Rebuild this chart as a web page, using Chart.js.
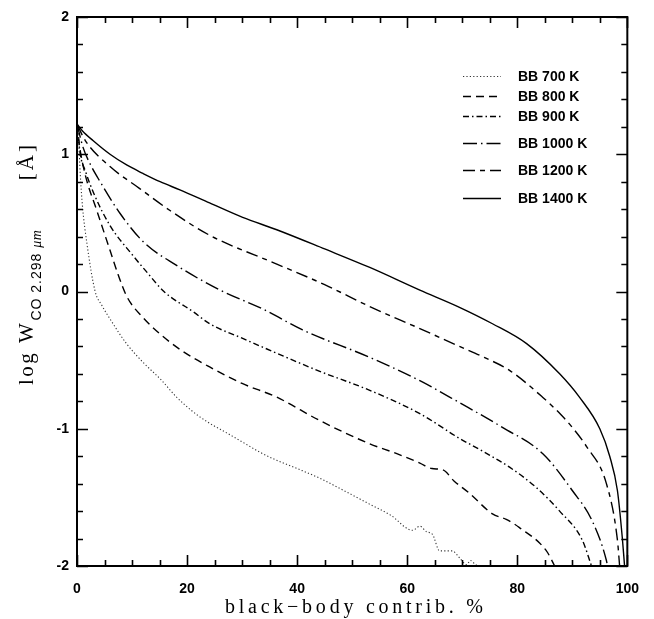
<!DOCTYPE html>
<html><head><meta charset="utf-8">
<script src="https://cdn.jsdelivr.net/npm/chart.js@4"></script>
<style>html,body{margin:0;padding:0;background:#fff}</style>
</head><body>
<canvas id="c" width="654" height="619" style="width:654px;height:619px;display:block"></canvas>
<script>
// ---- data ----
const seriesLabels = ['BB 700 K', 'BB 800 K', 'BB 900 K', 'BB 1000 K', 'BB 1200 K', 'BB 1400 K'];

const x700 = [0, 0.3, 0.6, 1, 1.8, 3.3, 4.5, 6, 9, 12.1, 15.2, 18.1, 21.2, 24.1, 27.2, 30.2, 33.2, 36.3, 40, 44.1, 48, 53.2, 57, 61, 62.3, 63.5, 64.6, 65.9, 68.2, 69.5, 70.8, 71.5, 72.3, 72.8];
const y700 = [1.22, 1.1, 0.85, 0.62, 0.35, 0.0, -0.1, -0.2, -0.38, -0.52, -0.64, -0.77, -0.88, -0.96, -1.03, -1.10, -1.17, -1.23, -1.29, -1.36, -1.44, -1.55, -1.63, -1.74, -1.71, -1.75, -1.77, -1.89, -1.89, -1.94, -1.99, -1.96, -1.985, -2.0];

const x800 = [0, 0.5, 1.5, 3.6, 6, 7.5, 9.1, 12, 15.1, 19, 24.1, 30, 36.3, 44.1, 53.2, 58, 62.3, 64.5, 66.5, 68.5, 71.3, 75.5, 78, 80.4, 85.3, 86.8];
const y800 = [1.22, 1.05, 0.85, 0.59, 0.30, 0.12, -0.04, -0.19, -0.31, -0.43, -0.55, -0.67, -0.77, -0.94, -1.11, -1.18, -1.25, -1.29, -1.30, -1.38, -1.47, -1.62, -1.66, -1.72, -1.89, -2.0];

const x900 = [0, 0.6, 1.5, 3.1, 6, 10, 12.5, 15.8, 21.2, 24.1, 30, 36.3, 44, 53.2, 62.3, 69.5, 74, 78.6, 83.5, 87.7, 91.8, 93.5];
const y900 = [1.22, 1.0, 0.88, 0.71, 0.48, 0.27, 0.15, 0.0, -0.15, -0.235, -0.34, -0.45, -0.58, -0.72, -0.89, -1.07, -1.17, -1.28, -1.43, -1.60, -1.81, -2.0];

const x1000 = [0, 1.1, 2.5, 4.2, 7.8, 12.1, 18.1, 26, 33.9, 41, 53.2, 62.3, 69.5, 77.3, 84.6, 90, 93.6, 96.2, 96.4];
const y1000 = [1.22, 1.05, 0.92, 0.80, 0.57, 0.36, 0.19, 0.01, -0.13, -0.28, -0.48, -0.65, -0.81, -0.99, -1.18, -1.45, -1.67, -1.96, -2.0];

const x1200 = [0, 1.5, 6, 11.4, 16.9, 24.1, 36.3, 45, 53.2, 62.3, 69.5, 74, 78.6, 84.6, 88, 90, 92.6, 96.2, 98.2, 98.6];
const y1200 = [1.22, 1.10, 0.91, 0.75, 0.59, 0.41, 0.20, 0.05, -0.11, -0.27, -0.40, -0.48, -0.575, -0.77, -0.90, -0.99, -1.13, -1.40, -1.81, -2.0];

const x1400 = [0, 1, 2.9, 6, 9.1, 12, 15.1, 18.7, 24.1, 30.1, 36.3, 45, 53.2, 62.3, 69.5, 75.5, 81.7, 87.7, 91.3, 95.0, 96.8, 98.2, 99.1, 99.5];
const y1400 = [1.22, 1.17, 1.10, 1.0, 0.92, 0.86, 0.80, 0.74, 0.645, 0.54, 0.45, 0.31, 0.175, 0.01, -0.115, -0.235, -0.38, -0.60, -0.77, -1.0, -1.20, -1.45, -1.80, -2.0];

const xTickLabels = ['0', '20', '40', '60', '80', '100'];
const yTickLabels = ['-2', '-1', '0', '1', '2'];

const xsAll = [x700, x800, x900, x1000, x1200, x1400];
const ysAll = [y700, y800, y900, y1000, y1200, y1400];
const dashes = [[1.2, 2.2], [8, 5], [6, 3, 1.5, 3], [14, 4, 1.5, 4], [12, 5, 5, 5], []];
const legendRows = [76, 96, 116, 143, 170, 198];

const datasets = seriesLabels.map((lab, i) => ({
  label: lab,
  data: xsAll[i].map((x, j) => ({x: x, y: ysAll[i][j]})),
  borderColor: i === 0 ? '#333' : '#000',
  borderWidth: i === 0 ? 1.1 : 1.4,
  borderDash: dashes[i],
  pointRadius: 0,
  cubicInterpolationMode: 'monotone',
  fill: false
}));

const framePlugin = {
  id: 'frame',
  afterDatasetsDraw(chart) {
    const {ctx, chartArea: a, scales} = chart;
    const xs = scales.x, ys = scales.y;
    ctx.save();
    ctx.strokeStyle = '#000';
    ctx.lineWidth = 1.6;
    ctx.beginPath();
    for (let v = 0; v <= 100; v += 5) {
      const px = Math.round(xs.getPixelForValue(v)) + 0.5;
      const len = (v % 20 === 0) ? 11 : 6;
      ctx.moveTo(px, a.bottom); ctx.lineTo(px, a.bottom - len);
      ctx.moveTo(px, a.top); ctx.lineTo(px, a.top + len);
    }
    for (let k = -10; k <= 10; k++) {
      const v = k / 5;
      const py = Math.round(ys.getPixelForValue(v)) + 0.5;
      const len = (k % 5 === 0) ? 11 : 6;
      ctx.moveTo(a.left, py); ctx.lineTo(a.left + len, py);
      ctx.moveTo(a.right, py); ctx.lineTo(a.right - len, py);
    }
    ctx.stroke();
    ctx.lineWidth = 2;
    ctx.strokeRect(a.left, a.top, a.right - a.left, a.bottom - a.top);

    // legend
    ctx.font = 'bold 14px "Liberation Sans", Arial, sans-serif';
    ctx.fillStyle = '#000';
    ctx.textBaseline = 'middle';
    ctx.textAlign = 'left';
    chart.data.datasets.forEach((ds, i) => {
      const y = legendRows[i] + 0.5;
      ctx.save();
      ctx.lineWidth = ds.borderWidth;
      ctx.strokeStyle = ds.borderColor;
      ctx.setLineDash(ds.borderDash);
      ctx.beginPath();
      ctx.moveTo(463, y); ctx.lineTo(501, y);
      ctx.stroke();
      ctx.restore();
      ctx.fillText(ds.label, 518, legendRows[i] + 1);
    });

    // x title with spacing
    const xt = 'black\u2212body contrib. %';
    ctx.font = '20px "Liberation Serif", "DejaVu Serif", serif';
    ctx.textBaseline = 'alphabetic';
    const chars = Array.from(xt);
    const widths = chars.map(c => ctx.measureText(c).width);
    const natural = widths.reduce((s, w) => s + w, 0);
    const target = 258;
    const extra = (target - natural) / (chars.length - 1);
    let cx = 354 - target / 2;
    chars.forEach((c, i) => { ctx.fillText(c, cx, 613); cx += widths[i] + extra; });

    // y title (rotated)
    ctx.save();
    ctx.translate(33, 385);
    ctx.rotate(-Math.PI / 2);
    const parts = [
      {t: 'log W', f: '21px "Liberation Serif", serif', dy: 0, sp: 2.5},
      {t: 'CO 2.298 ', f: '14px "Liberation Sans", Arial, sans-serif', dy: 8, sp: 1},
      {t: '\u03bcm', f: 'italic 14px "Liberation Serif", serif', dy: 8, sp: 0.5},
      {t: '      [\u00c5]', f: '21px "Liberation Serif", serif', dy: 0, sp: 3}
    ];
    let px = 0;
    parts.forEach(p => {
      ctx.font = p.f;
      for (const c of Array.from(p.t)) {
        ctx.fillText(c, px, p.dy);
        px += ctx.measureText(c).width + p.sp;
      }
    });
    ctx.restore();
    ctx.restore();
  }
};

new Chart(document.getElementById('c'), {
  type: 'line',
  data: {datasets},
  options: {
    responsive: false,
    devicePixelRatio: 1,
    animation: false,
    layout: {padding: {top: 17, right: 26, left: 0, bottom: 0}},
    plugins: {legend: {display: false}, tooltip: {enabled: false}},
    scales: {
      x: {
        type: 'linear', min: 0, max: 100,
        grid: {display: false, drawTicks: false},
        border: {display: false},
        afterFit(s) { s.height = 53; },
        afterBuildTicks(s) { s.ticks = xTickLabels.map(v => ({value: Number(v)})); },
        ticks: {
          color: '#000', padding: 15,
          font: {family: '"Liberation Sans", Arial, sans-serif', size: 14, weight: 'bold'},
          maxRotation: 0,
          callback: (v) => xTickLabels.includes(String(v)) ? String(v) : ''
        }
      },
      y: {
        type: 'linear', min: -2, max: 2,
        grid: {display: false, drawTicks: false},
        border: {display: false},
        afterFit(s) { s.width = 77; },
        afterBuildTicks(s) { s.ticks = yTickLabels.map(v => ({value: Number(v)})); },
        ticks: {
          color: '#000', padding: 8,
          font: {family: '"Liberation Sans", Arial, sans-serif', size: 14, weight: 'bold'},
          callback: (v) => yTickLabels.includes(String(v)) ? String(v) : ''
        }
      }
    }
  },
  plugins: [framePlugin]
});
</script>
</body></html>
